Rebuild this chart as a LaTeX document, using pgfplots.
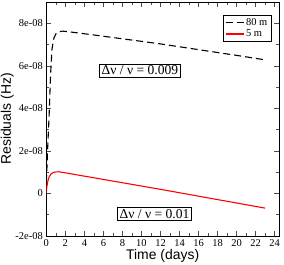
\documentclass[border=0pt]{standalone}
\usepackage{fontspec}
\setmainfont{Liberation Serif}
\newfontfamily\labelfont{Liberation Sans}
\usepackage{pgfplots}
\pgfplotsset{compat=1.18}
\usetikzlibrary{calc}
\begin{document}
\begin{tikzpicture}
\begin{axis}[
  scale only axis, width=232.7bp, height=234bp,
  xmin=0, xmax=24.45, ymin=-2e-8, ymax=9e-8,
  xtick={0,2,...,24}, minor x tick num=1,
  ytick={-2e-8,0,2e-8,4e-8,6e-8,8e-8},
  yticklabels={-2e-08,0,2e-08,4e-08,6e-08,8e-08},
  scaled y ticks=false, minor y tick num=1,
  tick align=inside, xtick pos=both, ytick pos=both,
  major tick length=5bp, minor tick length=3bp,
  axis line style={line width=0.6bp}, every tick/.style={line width=0.6bp, black!70},
  tick label style={font=\fontsize{10.5}{12}\selectfont},
  /pgf/number format/assume math mode=true,
  xlabel={Time (days)}, ylabel={Residuals (Hz)},
  label style={font=\labelfont\fontsize{14}{16}\selectfont},
  xlabel style={yshift=4bp},
  ylabel style={yshift=-5bp},
  legend style={at={(0.966,0.946)}, anchor=north east, draw=black, line width=0.5bp,
    font=\fontsize{10.5}{11}\selectfont, inner sep=1.5bp, row sep=-1bp},
  legend cell align=left,
  legend image code/.code={\draw[#1] (0bp,0bp) -- (18bp,0bp);},
]
\addplot[black, line width=1.1bp, dash pattern=on 7bp off 4bp] coordinates {
(0,0) (0.05,1.0e-8) (0.15,2.2e-8) (0.3,3.7e-8) (0.45,5.6e-8) (0.6,6.8e-8)
(0.8,7.3e-8) (1.0,7.5e-8) (1.3,7.6e-8) (1.7,7.63e-8) (2.2,7.61e-8)
(5,7.45e-8) (8,7.27e-8) (12,7.03e-8) (16,6.76e-8) (20,6.49e-8) (23,6.28e-8)};
\addlegendentry{80 m}
\addplot[red, line width=1.1bp] coordinates {
(0,0) (0.05,0.3e-8) (0.15,0.55e-8) (0.3,0.78e-8) (0.5,0.92e-8) (0.75,0.99e-8)
(1.0,1.01e-8) (1.3,1.02e-8) (2,0.97e-8) (12.3,0.17e-8) (23,-0.69e-8)};
\addlegendentry{5 m}
\node[draw=black, line width=0.6bp, fill=white, inner sep=2bp, font=\fontsize{13.6}{15}\selectfont]
  at (axis cs:9.84,5.78e-8) {Δν / ν = 0.009};
\node[draw=black, line width=0.6bp, fill=white, inner sep=2bp, font=\fontsize{13.6}{15}\selectfont]
  at (axis cs:11.37,-0.95e-8) {Δν / ν = 0.01};
\end{axis}
\pgfresetboundingbox
\path[use as bounding box] ($(current axis.south west)+(-46.3bp,-28bp)$) rectangle ($(current axis.north east)+(5bp,2bp)$);
\end{tikzpicture}
\end{document}
